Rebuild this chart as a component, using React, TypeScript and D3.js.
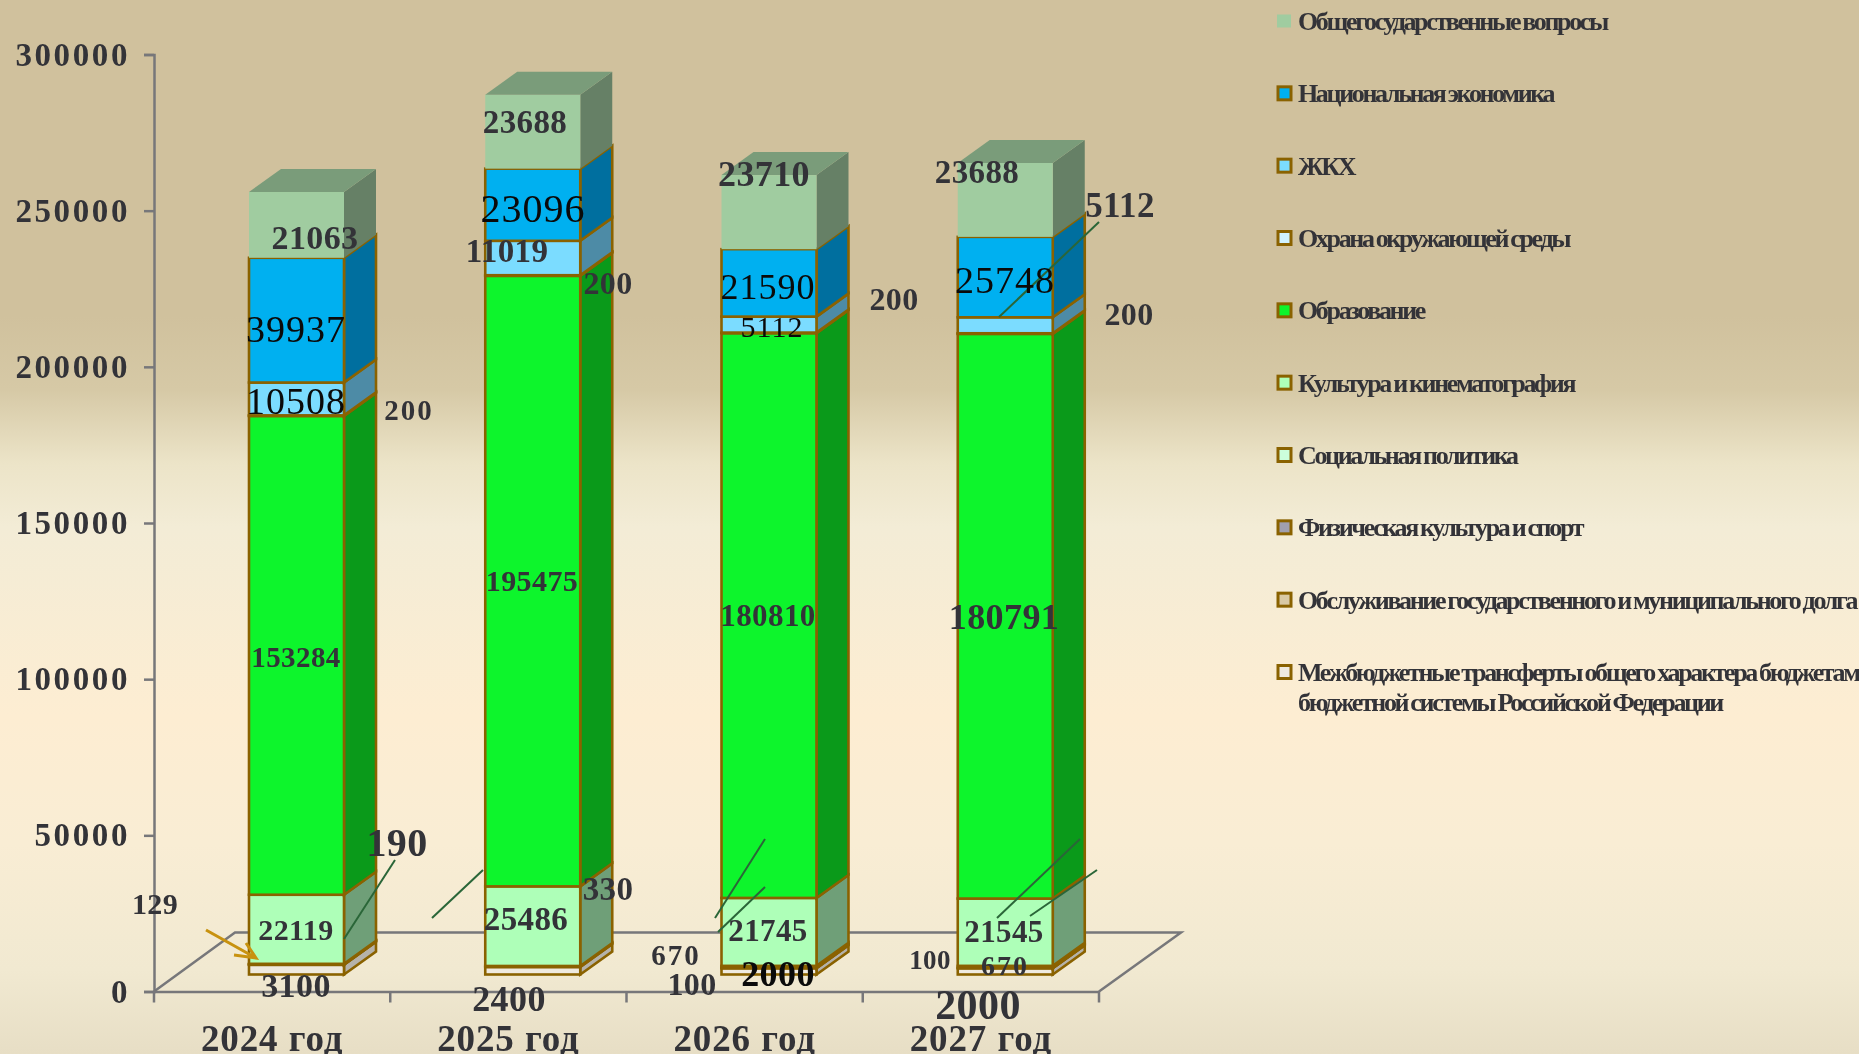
import React, { useEffect, useRef } from "react";
import * as d3 from "d3";

const years = ["2024 год", "2025 год", "2026 год", "2027 год"];
const yTicks = [0, 50000, 100000, 150000, 200000, 250000, 300000];

// bottom to top, the same order the bars are stacked in
const mezhbyudzhet = [3100, 2400, 2000, 2000];
const dolg = [0, 0, 0, 0];
const sport = [129, 0, 100, 100];
const social = [190, 330, 670, 670];
const kultura = [22119, 25486, 21745, 21545];
const obrazovanie = [153284, 195475, 180810, 180791];
const ecology = [200, 200, 200, 200];
const zhkh = [10508, 11019, 5112, 5112];
const economy = [39937, 23096, 21590, 25748];
const obshchie = [21063, 23688, 23710, 23688];

const seriesKeys = ["mezh", "dolg", "sport", "social", "kultura", "obraz", "ecology", "zhkh", "economy", "obshchie"];
const seriesValues: Record<string, number[]> = {
  mezh: mezhbyudzhet,
  dolg,
  sport,
  social,
  kultura,
  obraz: obrazovanie,
  ecology,
  zhkh,
  economy,
  obshchie,
};
const frontColors: Record<string, string> = {
  mezh: "#efeadf",
  dolg: "#d9c9a5",
  sport: "#a09fae",
  social: "#ccffdc",
  kultura: "#aeffb8",
  obraz: "#0df52c",
  ecology: "#d0f2ff",
  zhkh: "#7bdcff",
  economy: "#00b0f0",
  obshchie: "#a0cca0",
};
const sideColors: Record<string, string> = {
  mezh: "#b5b2aa",
  dolg: "#a08f6a",
  sport: "#777785",
  social: "#7fa88a",
  kultura: "#6f9f78",
  obraz: "#0a9a1a",
  ecology: "#8cb0bd",
  zhkh: "#4d8ba6",
  economy: "#006f9f",
  obshchie: "#668066",
};

const legendItems = [
  ["obshchie", "Общегосударственные вопросы"],
  ["economy", "Национальная экономика"],
  ["zhkh", "ЖКХ"],
  ["ecology", "Охрана окружающей среды"],
  ["obraz", "Образование"],
  ["kultura", "Культура и кинематография"],
  ["social", "Социальная политика"],
  ["sport", "Физическая культура и спорт"],
  ["dolg", "Обслуживание государственного и муниципального долга"],
  ["mezh", "Межбюджетные трансферты общего характера бюджетам"],
];

const W = 1859;
const H = 1054;
const BROWN = "#8a6200";
const INK = "#333338";

// series, year, x, y, size, look
const labelSpots: [string, number, number, number, number, string][] = [
  ["obshchie", 0, 315, 238, 34, "bold"],
  ["economy", 0, 296, 329, 38, "old"],
  ["zhkh", 0, 296, 401, 38, "old"],
  ["ecology", 0, 409, 410, 29, "spaced"],
  ["obraz", 0, 296, 657, 29, "bold"],
  ["kultura", 0, 296, 930, 30, "bold"],
  ["social", 0, 397, 843, 40, "bold"],
  ["sport", 0, 155, 904, 30, "bold"],
  ["mezh", 0, 296, 986, 34, "bold"],
  ["obshchie", 1, 525, 122, 33, "bold"],
  ["economy", 1, 533, 209, 40, "old"],
  ["zhkh", 1, 507, 251, 33, "bold"],
  ["ecology", 1, 608, 283, 32, "bold"],
  ["obraz", 1, 532, 581, 30, "bold"],
  ["kultura", 1, 526, 919, 33, "bold"],
  ["social", 1, 608, 889, 33, "bold"],
  ["mezh", 1, 509, 999, 36, "bold"],
  ["obshchie", 2, 764, 174, 36, "bold"],
  ["economy", 2, 768, 287, 36, "old"],
  ["zhkh", 2, 772, 327, 30, "old"],
  ["ecology", 2, 894, 299, 32, "bold"],
  ["obraz", 2, 768, 616, 31, "bold"],
  ["kultura", 2, 768, 931, 31, "bold"],
  ["social", 2, 676, 955, 29, "spaced"],
  ["sport", 2, 692, 984, 32, "bold"],
  ["mezh", 2, 778, 974, 36, "black"],
  ["obshchie", 3, 977, 172, 33, "bold"],
  ["economy", 3, 1005, 280, 38, "old"],
  ["zhkh", 3, 1120, 205, 35, "bold"],
  ["ecology", 3, 1129, 314, 32, "bold"],
  ["obraz", 3, 1004, 617, 36, "bold"],
  ["kultura", 3, 1004, 932, 31, "bold"],
  ["sport", 3, 930, 960, 27, "bold"],
  ["social", 3, 1005, 966, 28, "spaced"],
  ["mezh", 3, 978, 1005, 42, "bold"],
];

const leaderLines = [
  [344, 939, 395, 860],
  [432, 918, 483, 870],
  [715, 918, 765, 839],
  [718, 932, 765, 887],
  [997, 918, 1080, 839],
  [1030, 916, 1097, 870],
  [999, 317, 1099, 222],
];

const App: React.FC = () => {
  const svgRef = useRef<SVGSVGElement | null>(null);

  useEffect(() => {
    const svg = d3.select(svgRef.current);
    svg.selectAll("*").remove();

    const margin = { left: 154, right: 1099, top: 54.5, bottom: 991.5 };
    const barOffsetX = 95;
    const barWidth = 95;
    const lift = 17;
    const depthX = 32;
    const depthY = 23;

    const x = d3.scaleBand().domain(years).range([margin.left, margin.right]);
    const y = d3.scaleLinear().domain([0, 300000]).range([margin.bottom, margin.top]);

    // background
    const defs = svg.append("defs");
    const grad = defs
      .append("linearGradient")
      .attr("id", "bg")
      .attr("x1", 0)
      .attr("y1", 0)
      .attr("x2", 0)
      .attr("y2", 1);
    [
      [0, "#d0c19d"],
      [0.3, "#d0c19d"],
      [0.37, "#d6c9a6"],
      [0.44, "#ece4c8"],
      [0.5, "#f3ecd6"],
      [0.68, "#fdedd2"],
      [0.8, "#f9edd4"],
      [0.92, "#f1e9d1"],
      [1, "#e7dec5"],
    ].forEach(([o, c]) => grad.append("stop").attr("offset", o as number).attr("stop-color", c as string));
    svg.append("rect").attr("width", W).attr("height", H).attr("fill", "url(#bg)");

    // floor
    const floor = d3.path();
    floor.moveTo(margin.left, margin.bottom);
    floor.lineTo(margin.left + 81, margin.bottom - 59);
    floor.lineTo(margin.right + 82, margin.bottom - 59);
    floor.lineTo(margin.right, margin.bottom);
    svg
      .append("path")
      .attr("d", floor.toString())
      .attr("fill", "none")
      .attr("stroke", "#77777a")
      .attr("stroke-width", 2.5);

    // Y Axis
    svg
      .append("g")
      .attr("transform", `translate(${margin.left},0)`)
      .call(d3.axisLeft(y).tickValues(yTicks).tickSize(10).tickPadding(14).tickFormat(d3.format("d")) as any)
      .call(g => g.select(".domain").attr("stroke", "#77777a").attr("stroke-width", 2.5))
      .call(g => g.selectAll("line").attr("stroke", "#77777a").attr("stroke-width", 2.5))
      .call(g =>
        g
          .selectAll("text")
          .attr("fill", INK)
          .attr("font-family", "'Liberation Serif'")
          .attr("font-weight", "bold")
          .attr("font-size", 33)
          .attr("letter-spacing", 2.6)
      );

    // X Axis
    svg
      .append("g")
      .attr("transform", `translate(0,${margin.bottom})`)
      .call(d3.axisBottom(x).tickSize(0).tickPadding(33) as any)
      .call(g => g.select(".domain").attr("stroke", "#77777a").attr("stroke-width", 2.5))
      .call(g =>
        g
          .selectAll("text")
          .attr("fill", INK)
          .attr("font-family", "'Liberation Serif'")
          .attr("font-weight", "bold")
          .attr("font-size", 37)
          .attr("letter-spacing", 0.9)
      );
    svg
      .append("g")
      .selectAll("line")
      .data([...years.map(d => x(d)!), margin.right])
      .join("line")
      .attr("x1", d => d)
      .attr("x2", d => d)
      .attr("y1", margin.bottom)
      .attr("y2", margin.bottom + 11)
      .attr("stroke", "#77777a")
      .attr("stroke-width", 2.5);

    // Bars
    const stackData = years.map((yr, i) => {
      const row: any = { year: yr };
      seriesKeys.forEach(k => {
        row[k] = seriesValues[k][i];
      });
      return row;
    });
    const series = d3.stack().keys(seriesKeys)(stackData);
    const barsG = svg.append("g");

    years.forEach((yr, i) => {
      const left = x(yr)! + barOffsetX;
      const right = left + barWidth;
      series.forEach(s => {
        const key = s.key;
        const [v0, v1] = s[i];
        if (v1 - v0 <= 0) return;
        const top = y(v1) - lift;
        const bottom = y(v0) - lift;
        const isTop = key === "obshchie";
        const stroke = isTop ? "none" : BROWN;

        const side = d3.path();
        side.moveTo(right, top);
        side.lineTo(right + depthX, top - depthY);
        side.lineTo(right + depthX, bottom - depthY);
        side.lineTo(right, bottom);
        side.closePath();
        barsG
          .append("path")
          .attr("d", side.toString())
          .attr("fill", sideColors[key])
          .attr("stroke", stroke)
          .attr("stroke-width", 2.6);

        barsG
          .append("rect")
          .attr("x", left)
          .attr("y", top)
          .attr("width", barWidth)
          .attr("height", bottom - top)
          .attr("fill", frontColors[key])
          .attr("stroke", stroke)
          .attr("stroke-width", 2.6);

        if (isTop) {
          const cap = d3.path();
          cap.moveTo(left, top);
          cap.lineTo(left + depthX, top - depthY);
          cap.lineTo(right + depthX, top - depthY);
          cap.lineTo(right, top);
          cap.closePath();
          barsG.append("path").attr("d", cap.toString()).attr("fill", "#7a9c7a");
        }
      });
    });

    // Leader lines
    svg
      .append("g")
      .selectAll("line")
      .data(leaderLines)
      .join("line")
      .attr("x1", d => d[0])
      .attr("y1", d => d[1])
      .attr("x2", d => d[2])
      .attr("y2", d => d[3])
      .attr("stroke", "#2a6638")
      .attr("stroke-width", 2);

    // Arrow
    const arrow = d3.path();
    arrow.moveTo(206, 930);
    arrow.lineTo(256, 958);
    arrow.moveTo(246, 943);
    arrow.lineTo(256, 958);
    arrow.lineTo(234, 955);
    svg
      .append("path")
      .attr("d", arrow.toString())
      .attr("fill", "none")
      .attr("stroke", "#c8920f")
      .attr("stroke-width", 3);

    // Value labels
    svg
      .append("g")
      .attr("font-family", "'Liberation Serif'")
      .attr("text-anchor", "middle")
      .selectAll("text")
      .data(labelSpots)
      .join("text")
      .attr("x", d => d[2])
      .attr("y", d => d[3] + d[4] * 0.33)
      .attr("font-size", d => d[4])
      .attr("font-weight", d => (d[5] === "old" ? "normal" : "bold"))
      .attr("letter-spacing", d => (d[5] === "old" ? 1 : d[5] === "spaced" ? 2 : 0.4))
      .attr("fill", d => (d[5] === "old" || d[5] === "black" ? "#0a0a0a" : INK))
      .text(d => String(seriesValues[d[0]][d[1]]));

    // Legend
    const legend = svg.append("g").attr("font-family", "'Liberation Serif'").attr("font-weight", "bold");
    const legendY = d3.scalePoint<number>().domain(d3.range(10)).range([21, 672]);
    legendItems.forEach(([key, name], i) => {
      const cy = legendY(i)!;
      legend
        .append("rect")
        .attr("x", key === "obshchie" ? 1277 : 1278)
        .attr("y", cy - 6.5)
        .attr("width", key === "obshchie" ? 14 : 13)
        .attr("height", 13)
        .attr("fill", frontColors[key])
        .attr("stroke", key === "obshchie" ? "none" : BROWN)
        .attr("stroke-width", 3);
      legend
        .append("text")
        .attr("x", 1298)
        .attr("y", cy + 9)
        .attr("font-size", 26)
        .attr("letter-spacing", -2.35)
        .attr("word-spacing", -1)
        .attr("fill", INK)
        .text(name);
    });
    legend
      .append("text")
      .attr("x", 1298)
      .attr("y", 711)
      .attr("font-size", 26)
      .attr("letter-spacing", -2.35)
      .attr("word-spacing", -1)
      .attr("fill", INK)
      .text("бюджетной системы Российской Федерации");
  }, []);

  return (
    <svg
      ref={svgRef}
      width={W}
      height={H}
      style={{ position: "absolute", left: 0, top: 0, display: "block", filter: "blur(0.5px)" }}
    ></svg>
  );
};

export default App;
